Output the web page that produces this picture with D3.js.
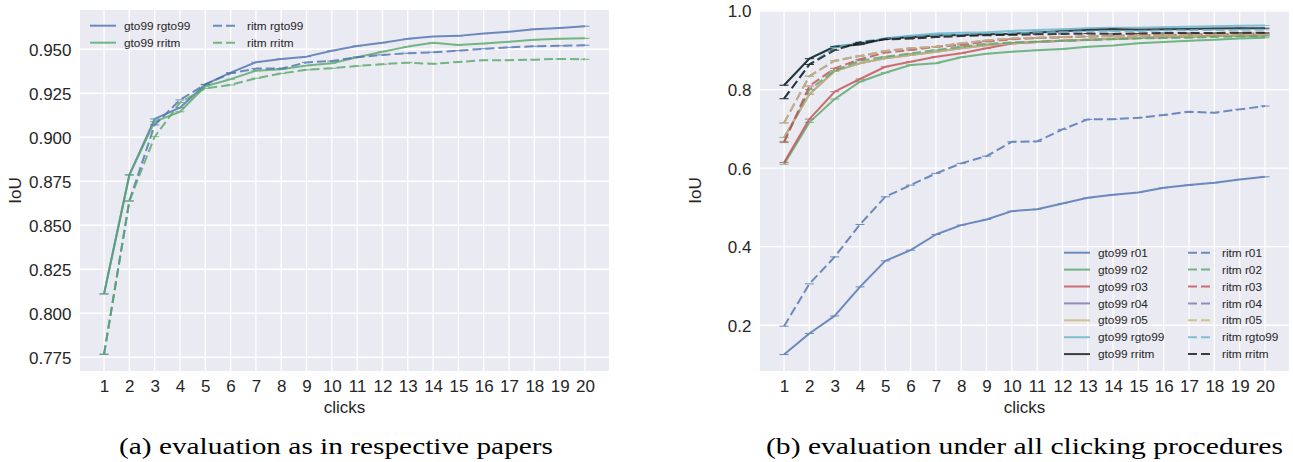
<!DOCTYPE html>
<html>
<head>
<meta charset="utf-8">
<script src="https://cdn.jsdelivr.net/npm/d3@7"></script>
<style>
  html, body { margin: 0; padding: 0; background: #ffffff; }
  svg { display: block; }
  text { font-family: "Liberation Sans", Arial, sans-serif; fill: #262626; }
  .cap { font-family: "Liberation Serif", "DejaVu Serif", serif; fill: #000; }
</style>
</head>
<body>
<svg id="chart" width="1293" height="462"></svg>
<script>
// ---------- data ----------
const clicks = [1, 2, 3, 4, 5, 6, 7, 8, 9, 10, 11, 12, 13, 14, 15, 16, 17, 18, 19, 20];

// panel (a) – evaluation as in respective papers (also used in panel b)
const gto99Rgto99 = [0.811, 0.8786, 0.9104, 0.9168, 0.930, 0.9367, 0.9426, 0.9445, 0.9458, 0.9492,
                     0.9519, 0.9537, 0.9559, 0.9572, 0.9576, 0.9589, 0.9600, 0.9614, 0.9621, 0.9631];
const gto99Rritm  = [0.811, 0.8786, 0.9089, 0.9145, 0.929, 0.9330, 0.9378, 0.9386, 0.9407, 0.9421,
                     0.9455, 0.9486, 0.9515, 0.9537, 0.9524, 0.9532, 0.9543, 0.9554, 0.9560, 0.9562];
const ritmRgto99  = [0.7767, 0.8638, 0.9070, 0.9212, 0.930, 0.9363, 0.9390, 0.9390, 0.9425, 0.9433,
                     0.9455, 0.9468, 0.9477, 0.9483, 0.9492, 0.9503, 0.9511, 0.9517, 0.9520, 0.9523];
const ritmRritm   = [0.7767, 0.8638, 0.9003, 0.9197, 0.9278, 0.9297, 0.9335, 0.9363, 0.9383, 0.9392,
                     0.9405, 0.9415, 0.9424, 0.9417, 0.9428, 0.9438, 0.9438, 0.9441, 0.9445, 0.9443];

// panel (b) – evaluation under all clicking procedures
const gto99R01 = [0.1254, 0.179, 0.2237, 0.2977, 0.3638, 0.3911, 0.431, 0.4548, 0.4693, 0.4904,
                  0.4955, 0.510, 0.5244, 0.532, 0.538, 0.5499, 0.5567, 0.5626, 0.5712, 0.5778];
const gto99R02 = [0.610, 0.7164, 0.7758, 0.820, 0.8428, 0.8624, 0.8667, 0.882, 0.891, 0.8963,
                  0.900, 0.903, 0.909, 0.912, 0.9177, 0.921, 0.924, 0.927, 0.930, 0.932];
const gto99R03 = [0.6145, 0.7248, 0.7945, 0.8268, 0.858, 0.8709, 0.8836, 0.8922, 0.905, 0.917,
                  0.921, 0.924, 0.927, 0.929, 0.931, 0.933, 0.935, 0.936, 0.937, 0.938];
const gto99R04 = [0.678, 0.788, 0.847, 0.8667, 0.8794, 0.888, 0.8964, 0.905, 0.913, 0.918,
                  0.921, 0.924, 0.927, 0.929, 0.931, 0.933, 0.935, 0.936, 0.937, 0.938];
const gto99R05 = [0.678, 0.788, 0.847, 0.8667, 0.8794, 0.888, 0.8964, 0.905, 0.913, 0.918,
                  0.921, 0.924, 0.927, 0.929, 0.931, 0.933, 0.935, 0.936, 0.937, 0.938];
const ritmR01  = [0.1975, 0.3053, 0.374, 0.4565, 0.5269, 0.5567, 0.5865, 0.612, 0.6306, 0.667,
                  0.668, 0.6986, 0.724, 0.7245, 0.7282, 0.735, 0.7435, 0.741, 0.7495, 0.758];
const ritmR02  = [0.668, 0.800, 0.848, 0.8734, 0.8836, 0.892, 0.9006, 0.909, 0.916, 0.920,
                  0.922, 0.924, 0.926, 0.928, 0.930, 0.931, 0.932, 0.934, 0.935, 0.936];
const ritmR03  = [0.665, 0.809, 0.854, 0.877, 0.894, 0.9006, 0.909, 0.9134, 0.922, 0.928,
                  0.931, 0.933, 0.935, 0.937, 0.938, 0.939, 0.940, 0.941, 0.942, 0.943];
const ritmR04  = [0.715, 0.834, 0.8734, 0.8853, 0.898, 0.905, 0.909, 0.9176, 0.925, 0.930,
                  0.932, 0.934, 0.935, 0.936, 0.937, 0.938, 0.939, 0.940, 0.941, 0.941];
const ritmR05  = [0.715, 0.834, 0.8734, 0.8853, 0.898, 0.905, 0.909, 0.9176, 0.925, 0.930,
                  0.932, 0.934, 0.935, 0.936, 0.937, 0.938, 0.939, 0.940, 0.941, 0.941];

const yTicksA = [0.775, 0.800, 0.825, 0.850, 0.875, 0.900, 0.925, 0.950];
const yTicksB = [0.2, 0.4, 0.6, 0.8, 1.0];

const C = { blue: "#4C72B0", green: "#55A868", red: "#C44E52", purple: "#8172B2",
            tan: "#CCB974", cyan: "#64B5CD", black: "#111111" };

const seriesA = [
  { name: "gto99 rgto99", values: gto99Rgto99, color: C.blue,  dashed: false },
  { name: "gto99 rritm",  values: gto99Rritm,  color: C.green, dashed: false },
  { name: "ritm rgto99",  values: ritmRgto99,  color: C.blue,  dashed: true },
  { name: "ritm rritm",   values: ritmRritm,   color: C.green, dashed: true }
];
const seriesB = [
  { name: "gto99 r01",    values: gto99R01,    color: C.blue,   dashed: false },
  { name: "gto99 r02",    values: gto99R02,    color: C.green,  dashed: false },
  { name: "gto99 r03",    values: gto99R03,    color: C.red,    dashed: false },
  { name: "gto99 r04",    values: gto99R04,    color: C.purple, dashed: false },
  { name: "gto99 r05",    values: gto99R05,    color: C.tan,    dashed: false },
  { name: "gto99 rgto99", values: gto99Rgto99, color: C.cyan,   dashed: false },
  { name: "gto99 rritm",  values: gto99Rritm,  color: C.black,  dashed: false },
  { name: "ritm r01",     values: ritmR01,     color: C.blue,   dashed: true },
  { name: "ritm r02",     values: ritmR02,     color: C.green,  dashed: true },
  { name: "ritm r03",     values: ritmR03,     color: C.red,    dashed: true },
  { name: "ritm r04",     values: ritmR04,     color: C.purple, dashed: true },
  { name: "ritm r05",     values: ritmR05,     color: C.tan,    dashed: true },
  { name: "ritm rgto99",  values: ritmRgto99,  color: C.cyan,   dashed: true },
  { name: "ritm rritm",   values: ritmRritm,   color: C.black,  dashed: true }
];

// ---------- drawing ----------
const svg = d3.select("#chart");
const DASH = "9,4";
const LW = 2;
const OP = 0.8;

function panel(cfg) {
  const { left, right, top, bottom, yDomain, yTicks, yFmt, series, legend } = cfg;
  const x = d3.scaleLinear().domain([0.05, 20.95]).range([left, right]);
  const y = d3.scaleLinear().domain(yDomain).range([bottom, top]);
  const g = svg.append("g");

  g.append("rect").attr("x", left).attr("y", top)
    .attr("width", right - left).attr("height", bottom - top).attr("fill", "#EAEAF2");

  // grid
  g.append("g").selectAll("line").data(clicks).join("line")
    .attr("x1", d => x(d)).attr("x2", d => x(d)).attr("y1", top).attr("y2", bottom)
    .attr("stroke", "#fff").attr("stroke-width", 1.3);
  g.append("g").selectAll("line").data(yTicks).join("line")
    .attr("x1", left).attr("x2", right).attr("y1", d => y(d)).attr("y2", d => y(d))
    .attr("stroke", "#fff").attr("stroke-width", 1.3);

  // axes (labels only, seaborn style)
  const xAxis = d3.axisBottom(x).tickValues(clicks).tickSize(0).tickPadding(0).tickFormat(d3.format("d"));
  const xa = g.append("g").attr("transform", `translate(0,${bottom})`).call(xAxis);
  xa.select(".domain").remove();
  xa.selectAll("text").attr("y", 21).attr("dy", null).attr("font-size", 17)
    .attr("fill", "#262626").attr("font-family", "Liberation Sans, Arial, sans-serif");

  const yAxis = d3.axisLeft(y).tickValues(yTicks).tickSize(0).tickPadding(8.5).tickFormat(yFmt);
  const ya = g.append("g").attr("transform", `translate(${left},0)`).call(yAxis);
  ya.select(".domain").remove();
  ya.selectAll("text").attr("font-size", 17).attr("dy", "0.35em")
    .attr("fill", "#262626").attr("font-family", "Liberation Sans, Arial, sans-serif");

  // axis labels
  g.append("text").attr("x", (left + right) / 2).attr("y", bottom + 42)
    .attr("text-anchor", "middle").attr("font-size", 17).text("clicks");
  g.append("text").attr("transform", `translate(${left - 59},${(top + bottom) / 2}) rotate(-90)`)
    .attr("text-anchor", "middle").attr("font-size", 17).text("IoU");

  // lines
  const line = d3.line().x((d, i) => x(clicks[i])).y(d => y(d));
  series.forEach(s => {
    const sg = g.append("g").attr("opacity", OP);
    sg.append("path").datum(s.values).attr("d", line)
      .attr("fill", "none").attr("stroke", s.color).attr("stroke-width", LW)
      .attr("stroke-linejoin", "round")
      .attr("stroke-dasharray", s.dashed ? DASH : null);
    sg.selectAll("line.cap").data(s.values).join("line").attr("class", "cap")
      .attr("x1", (d, i) => x(clicks[i]) - 4.5).attr("x2", (d, i) => x(clicks[i]) + 4.5)
      .attr("y1", d => y(d)).attr("y2", d => y(d))
      .attr("stroke", s.color).attr("stroke-width", 1);
  });

  // legend (two columns, column-first)
  const half = Math.ceil(series.length / 2);
  series.forEach((s, i) => {
    const col = i < half ? 0 : 1;
    const row = i % half;
    const lx = legend.x[col];
    const ly = legend.y0 + row * legend.dy;
    const lg = g.append("g");
    lg.append("line").attr("x1", lx).attr("x2", lx + 26).attr("y1", ly).attr("y2", ly)
      .attr("stroke", s.color).attr("stroke-width", LW).attr("opacity", OP)
      .attr("stroke-dasharray", s.dashed ? DASH : null);
    lg.append("text").attr("x", lx + 34).attr("y", ly).attr("dy", "0.35em")
      .attr("font-size", 11.8).text(s.name);
  });
}

panel({
  left: 80, right: 609, top: 10, bottom: 371,
  yDomain: [0.7672, 0.9723], yTicks: yTicksA, yFmt: d3.format(".3f"),
  series: seriesA,
  legend: { x: [90, 213], y0: 25.7, dy: 17 }
});

panel({
  left: 760, right: 1289, top: 10, bottom: 371,
  yDomain: [0.0835, 1.0025], yTicks: yTicksB, yFmt: d3.format(".1f"),
  series: seriesB,
  legend: { x: [1064, 1188], y0: 252.7, dy: 16.9 }
});

// captions
function caption(txt, cx, w) {
  svg.append("text").attr("class", "cap").attr("x", cx).attr("y", 454)
    .attr("text-anchor", "middle").attr("font-size", 24)
    .attr("textLength", w).attr("lengthAdjust", "spacingAndGlyphs").text(txt);
}
caption("(a) evaluation as in respective papers", 336, 434);
caption("(b) evaluation under all clicking procedures", 1024.5, 517);
</script>
</body>
</html>
